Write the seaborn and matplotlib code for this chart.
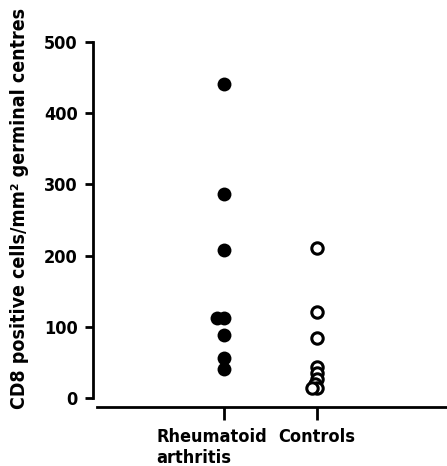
import numpy as np
import pandas as pd
import seaborn as sns
import matplotlib.pyplot as plt
from matplotlib.transforms import ScaledTranslation

groups = ["Rheumatoid\narthritis", "Controls"]
ra_values = [441, 287, 208, 112, 112, 88, 56, 41]
control_values = [210, 121, 84, 44, 35, 27, 20, 14, 14]

sns.set_style("ticks")
plt.rcParams['font.family'] = ['DejaVu Sans']
plt.rcParams['font.stretch'] = 'condensed'
plt.rcParams['font.weight'] = 'bold'
for k in ['text.color', 'axes.labelcolor', 'xtick.color', 'ytick.color', 'axes.edgecolor']:
    plt.rcParams[k] = 'black'

ra = pd.DataFrame({'group': groups[0], 'value': ra_values})
ctl = pd.DataFrame({'group': groups[1], 'value': control_values})

fig = plt.figure(figsize=(4.47, 4.66), dpi=100)
ax = fig.add_axes([93 / 447, 1 - 407 / 466, (447 - 93) / 447, (407 - 42) / 466])

sns.swarmplot(data=ra, x='group', y='value', order=groups, color='black',
              size=4.5, linewidth=0, ax=ax)
sns.swarmplot(data=ctl, x='group', y='value', order=groups, color='white',
              edgecolor='black', linewidth=0.3, size=3, ax=ax)

ax.set_xlim(-1.409, 2.398)
ax.set_ylim(-12.6, 500)
ax.set_yticks([0, 100, 200, 300, 400, 500])
ax.set_xlabel('')
ax.set_ylabel('CD8 positive cells/mm² germinal centres', fontsize=14,
              fontweight='bold')
ax.yaxis.set_label_coords(-0.18, 0.545)

for s in ['top', 'right']:
    ax.spines[s].set_visible(False)
ax.spines['left'].set_bounds(0, 500)
ax.spines['bottom'].set_bounds(-1.366, 2.398)
ax.spines['left'].set_linewidth(2)
ax.spines['bottom'].set_linewidth(2)
ax.tick_params(axis='y', length=6, width=2, pad=5, labelsize=13)
ax.tick_params(axis='x', length=9, width=2, pad=6, labelsize=13)

# swarm is laid out at the small size on first draw; then freeze it and
# grow the markers so neighbours overlap like in the original figure
fig.canvas.draw()
for coll in ax.collections:
    if 'draw' in coll.__dict__:
        del coll.draw
    if len(coll.get_offsets()) == 0:
        continue
    fc = coll.get_facecolor()
    if len(fc) and fc[0][0] > 0.5:
        coll.set_sizes([8.2 ** 2])
        coll.set_linewidth(2.2)
    else:
        coll.set_sizes([10 ** 2])

labs = ax.get_xticklabels()
for lab in labs:
    lab.set_multialignment('left')
labs[0].set_transform(labs[0].get_transform() +
                      ScaledTranslation(-0.12, 0, fig.dpi_scale_trans))

plt.savefig('out.png', dpi=100)
